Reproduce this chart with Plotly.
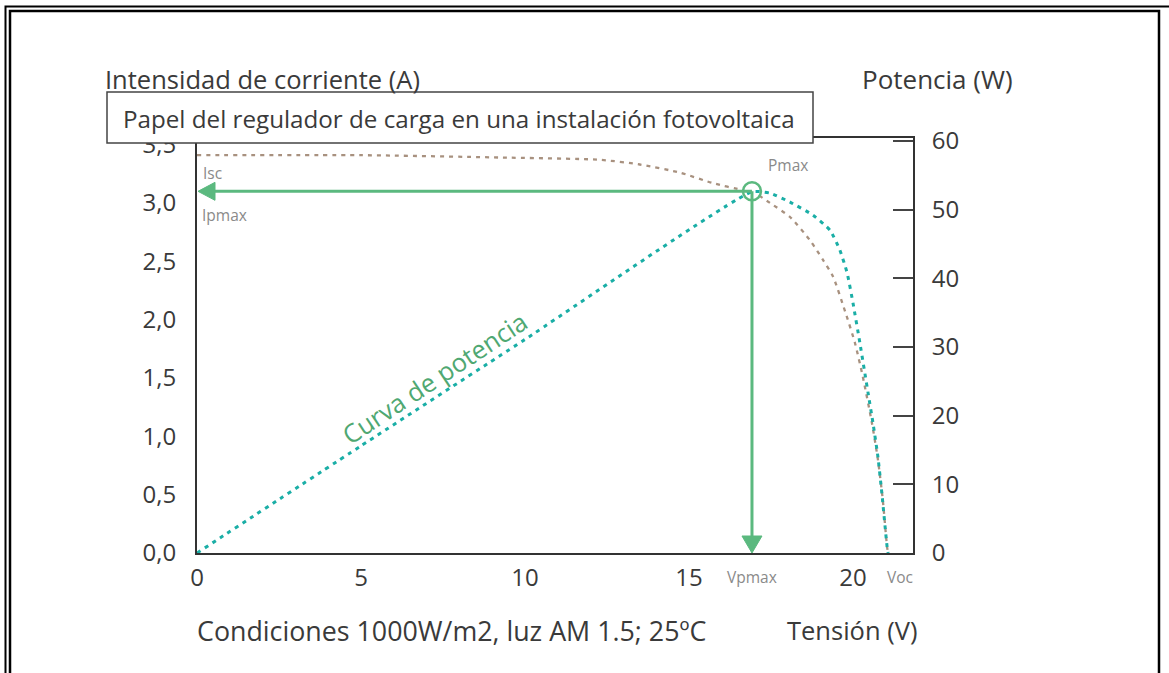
import plotly.graph_objects as go

# I-V characteristic of the module (V in volts, I in amperes)
iv_voltage = [0, 5, 9.2, 12.3, 13.5, 14.73, 15.73, 16.65, 16.92, 17.47, 18.08, 18.69,
              19.09, 19.39, 19.76, 20.06, 20.30, 20.58, 20.76, 20.91, 21.04, 21.07]
iv_current = [3.41, 3.41, 3.39, 3.37, 3.33, 3.26, 3.17, 3.11, 3.10, 3.00, 2.88, 2.68,
              2.51, 2.37, 2.07, 1.80, 1.51, 1.11, 0.80, 0.45, 0.05, 0.0]

# Power curve (W) against voltage
pw_voltage = [0, 5, 10, 16.92, 17.47, 18.08, 18.78, 19.30, 19.60, 19.82, 20.00, 20.21,
              20.46, 20.61, 20.76, 20.88, 21.04, 21.07]
pw_power = [0, 15.6, 31.1, 52.6, 52.4, 51.1, 49.2, 47.0, 44.1, 40.8, 36.4, 30.6,
            23.3, 18.9, 14.0, 8.7, 0.9, 0]

# Maximum power point and open-circuit voltage
V_PMAX = 16.92
I_PMAX = 3.10
P_MAX = 52.6
V_OC = 21.07

x_ticks = [0, 5, 10, 15, 20]
y_ticks = [0, 0.5, 1.0, 1.5, 2.0, 2.5, 3.0, 3.5]
y_tick_text = ["0,0", "0,5", "1,0", "1,5", "2,0", "2,5", "3,0", "3,5"]
y2_ticks = [0, 10, 20, 30, 40, 50, 60]

W, H = 1169, 673
PL, PR, PT, PB = 197, 913, 138, 553

FONT = "Open Sans"
DARK = "#3a3a3a"
GREY = "#8a8a8a"
TEAL = "#1aaea6"
BROWN = "#a8917f"
GREEN = "#5bb97f"


def px(x):
    return (x - PL) / (PR - PL)


def py(y):
    return (PB - y) / (PB - PT)


fig = go.Figure()

fig.add_trace(go.Scatter(
    x=iv_voltage, y=iv_current, mode="lines",
    line=dict(color=BROWN, width=2.3, dash="4px,5px", shape="spline", smoothing=0.6),
    hoverinfo="skip", showlegend=False,
))

fig.add_trace(go.Scatter(
    x=pw_voltage, y=pw_power, mode="lines", yaxis="y2",
    line=dict(color=TEAL, width=3, dash="4px,5px", shape="spline", smoothing=0.5),
    hoverinfo="skip", showlegend=False,
))

shapes = []
# Arrows from the maximum power point to both axes
shapes.append(dict(type="line", xref="x", yref="y", x0=0.4, x1=V_PMAX, y0=I_PMAX, y1=I_PMAX,
                   line=dict(color=GREEN, width=3), layer="above"))
shapes.append(dict(type="path", xref="x", yref="y", xsizemode="pixel", ysizemode="pixel",
                   xanchor=0, yanchor=I_PMAX, path="M1,0 L18,9 L18,-9 Z",
                   fillcolor=GREEN, line=dict(color=GREEN, width=1), layer="above"))
shapes.append(dict(type="line", xref="x", yref="y", x0=V_PMAX, x1=V_PMAX, y0=I_PMAX, y1=0.1,
                   line=dict(color=GREEN, width=3), layer="above"))
shapes.append(dict(type="path", xref="x", yref="y", xsizemode="pixel", ysizemode="pixel",
                   xanchor=V_PMAX, yanchor=0, path="M0,0 L-10,17 L10,17 Z",
                   fillcolor=GREEN, line=dict(color=GREEN, width=1), layer="above"))

# Title box
shapes.append(dict(type="rect", xref="paper", yref="paper",
                   x0=px(107), x1=px(813), y0=py(143), y1=py(92),
                   fillcolor="white", line=dict(color="#444444", width=1.5), layer="above"))

# Double page frame
for off, lw in [(5.5, 2), (10, 2.5)]:
    shapes.append(dict(type="rect", xref="paper", yref="paper",
                       x0=px(off), x1=px(W - off + (0 if off > 6 else 10)),
                       y0=py(H + 20), y1=py(off + 1),
                       line=dict(color="black", width=lw), fillcolor="rgba(0,0,0,0)",
                       layer="above"))

fig.add_trace(go.Scatter(
    x=[V_PMAX], y=[I_PMAX], mode="markers",
    marker=dict(size=18, color="white", line=dict(color=GREEN, width=2.5)),
    hoverinfo="skip", showlegend=False, cliponaxis=False,
))

ann = []


def label(text, x, y, size, color=DARK, xanchor="left", **kw):
    ann.append(dict(text=text, x=px(x), y=py(y), xref="paper", yref="paper",
                    xanchor=xanchor, yanchor="middle", showarrow=False,
                    font=dict(family=FONT, size=size, color=color), **kw))


label("Intensidad de corriente (A)", 103, 79, 25.5)
label("Potencia (W)", 860, 79, 26)
label("Condiciones 1000W/m2, luz AM 1.5; 25ºC", 195, 630, 26.8)
label("Tensión (V)", 785, 630, 25.5)
label("Papel del regulador de carga en una instalación fotovoltaica", 121, 119, 24.2)

small = dict(family=FONT, size=15.5, color=GREY)
ann.append(dict(text="Isc", x=0, y=iv_current[0], xref="x", yref="y", xanchor="left",
                yanchor="top", xshift=4, yshift=-5, showarrow=False, font=small))
ann.append(dict(text="Ipmax", x=0, y=I_PMAX, xref="x", yref="y", xanchor="left",
                yanchor="top", xshift=3, yshift=-11, showarrow=False, font=small))
ann.append(dict(text="Pmax", x=V_PMAX, y=I_PMAX, xref="x", yref="y", xanchor="left",
                yanchor="bottom", xshift=14, yshift=13, showarrow=False, font=small))
ann.append(dict(text="Vpmax", x=V_PMAX, y=0, xref="x", yref="y", xanchor="center",
                yanchor="top", yshift=-11, showarrow=False, font=small))
ann.append(dict(text="Voc", x=V_OC, y=0, xref="x", yref="y", xanchor="center",
                yanchor="top", xshift=12, yshift=-11, showarrow=False, font=small))
ann.append(dict(text="Curva de potencia", x=px(434), y=py(378), xref="paper", yref="paper",
                xanchor="center", yanchor="middle", textangle=-33.5, showarrow=False,
                font=dict(family=FONT, size=25.5, color="#4fa872")))

tick_font = dict(family=FONT, size=24, color=DARK)

fig.update_layout(
    width=W, height=H,
    margin=dict(l=PL, r=W - PR, t=PT, b=H - PB, pad=0),
    paper_bgcolor="white", plot_bgcolor="white",
    showlegend=False,
    font=dict(family=FONT, size=24, color=DARK),
    xaxis=dict(range=[0, (PR - PL) / 32.8], tickvals=x_ticks, showgrid=False, zeroline=False,
               showline=True, linecolor="#333333", linewidth=2, mirror=True,
               ticks="", ticklabelstandoff=2, tickfont=tick_font),
    yaxis=dict(range=[0, (PB - PT) / 116.67], tickvals=y_ticks, ticktext=y_tick_text,
               showgrid=False, zeroline=False, showline=True, linecolor="#333333",
               linewidth=2, ticks="", ticklabelstandoff=14, tickfont=tick_font),
    yaxis2=dict(range=[0, (PB - PT) / 6.867], tickvals=y2_ticks, overlaying="y", side="right",
                showgrid=False, zeroline=False, showline=True, linecolor="#333333",
                linewidth=2, ticks="inside", ticklen=20, tickwidth=2, tickcolor="#444444",
                ticklabelstandoff=12, tickfont=tick_font),
    shapes=shapes,
    annotations=ann,
)

fig.write_html("out.html")
